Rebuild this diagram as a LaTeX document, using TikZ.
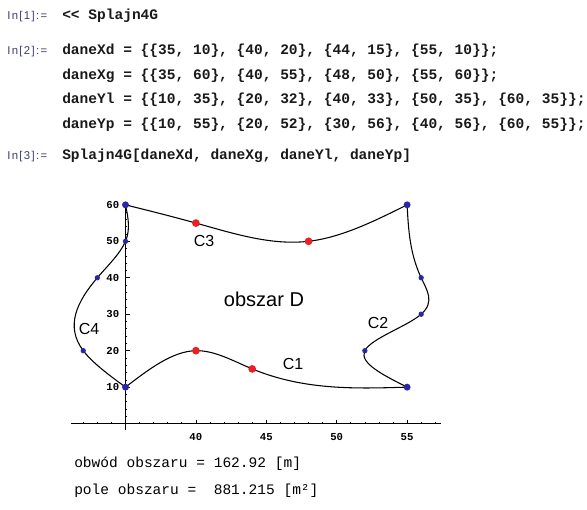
\documentclass[tikz,border=0pt]{standalone}
\usepackage{fontspec}
\setmainfont{Liberation Sans}
\setmonofont{Liberation Mono}
\newfontfamily\labfont{Liberation Sans}[LetterSpace=12]
\definecolor{inlabc}{RGB}{60,60,115}
\definecolor{ptblue}{RGB}{40,40,165}
\definecolor{ptred}{RGB}{232,32,40}
\begin{document}
\begin{tikzpicture}[x=0.75pt,y=-0.75pt,
  code/.style={font=\ttfamily\bfseries\fontsize{10.9}{12}\selectfont, anchor=base west, inner sep=0pt, text=black!90},
  outtxt/.style={font=\ttfamily\fontsize{10.9}{12}\selectfont, anchor=base west, inner sep=0pt},
  inlab/.style={font=\labfont\fontsize{8.5}{10}\selectfont, text=inlabc, anchor=base west, inner sep=0pt},
  tlab/.style={font=\ttfamily\bfseries\fontsize{8}{9}\selectfont, inner sep=0pt},
  clab/.style={font=\fontsize{12}{14}\selectfont, inner sep=0pt},
  dlab/.style={font=\fontsize{15}{17}\selectfont, inner sep=0pt},
  curve/.style={draw=black, line width=0.8pt},
  axisline/.style={draw=black, line width=0.75pt},
  tickline/.style={draw=black, line width=0.5pt},
  bigblue/.style={circle, fill=ptblue, minimum size=5.2pt, inner sep=0pt},
  smallblue/.style={circle, fill=ptblue, minimum size=4pt, inner sep=0pt},
  bigred/.style={circle, fill=ptred, minimum size=5.8pt, inner sep=0pt}]
\useasboundingbox (0,0) rectangle (587,510);
\fill[white] (0,0) rectangle (587,510);

% --- input cells ---
\node[inlab] (in1) at (7,20) {In[1]:=};
\node[code] (c1) at (62,20) {<{}< Splajn4G};
\node[inlab] (in2) at (7,55) {In[2]:=};
\node[code] (c2) at (62,55) {daneXd = \{\{35, 10\}, \{40, 20\}, \{44, 15\}, \{55, 10\}\};};
\node[code] (c3) at (62,80) {daneXg = \{\{35, 60\}, \{40, 55\}, \{48, 50\}, \{55, 60\}\};};
\node[code] (c4) at (62,104) {daneYl = \{\{10, 35\}, \{20, 32\}, \{40, 33\}, \{50, 35\}, \{60, 35\}\};};
\node[code] (c5) at (62,129) {daneYp = \{\{10, 55\}, \{20, 52\}, \{30, 56\}, \{40, 56\}, \{60, 55\}\};};
\node[inlab] (in3) at (7,160) {In[3]:=};
\node[code] (c6) at (62,160) {Splajn4G[daneXd, daneXg, daneYl, daneYp]};

% --- output text ---
\node[outtxt] (o1) at (74,468) {obwód obszaru = 162.92 [m]};
\node[outtxt] (o2) at (74,495) {pole obszaru =~ 881.215 [m²]};

% --- plot ---
\begin{scope}[shift={(-367.3,423.6)}, x=10.56pt, y=2.7345pt]
  % axes
  \coordinate (xa) at (31.1,0);
  \coordinate (xb) at (57.4,0);
  \coordinate (ya) at (35,-1.8);
  \coordinate (yb) at (35,60.3);
  \draw[axisline] (xa) -- (xb);
  \draw[axisline] (ya) -- (yb);
  \foreach \i in {32,33,34,36,37,38,39,41,42,43,44,46,47,48,49,51,52,53,54,56,57}
    \draw[tickline] (\i,0) -- ++(0pt,1.4pt);
  \foreach \i in {40,45,50,55} {
    \draw[tickline] (\i,0) -- ++(0pt,3pt);
    \node[tlab] (xl\i) at ([yshift=-10pt]\i,0) {\i};
  }
  \foreach \j in {2,4,6,8,12,14,16,18,22,24,26,28,32,34,36,38,42,44,46,48,52,54,56,58}
    \draw[tickline] (35,\j) -- ++(1.4pt,0pt);
  \foreach \j in {10,20,30,40,50,60} {
    \draw[tickline] (35,\j) -- ++(3pt,0pt);
    \node[tlab, anchor=east] (yl\j) at ([xshift=-4.5pt]35,\j) {\j};
  }

  % data points
  \coordinate (a1) at (35,10);
  \coordinate (a2) at (40,20);
  \coordinate (a3) at (44,15);
  \coordinate (a4) at (55,10);
  \coordinate (b1) at (35,60);
  \coordinate (b2) at (40,55);
  \coordinate (b3) at (48,50);
  \coordinate (b4) at (55,60);
  \coordinate (l2) at (32,20);
  \coordinate (l3) at (33,40);
  \coordinate (l4) at (35,50);
  \coordinate (r2) at (52,20);
  \coordinate (r3) at (56,30);
  \coordinate (r4) at (56,40);

  % C1
  \draw[curve] (a1) .. controls (36.667,14.934) and (38.333,19.869) .. (a2)
    .. controls (41.333,20.105) and (42.667,17.135) .. (a3)
    .. controls (47.667,9.128) and (51.333,9.564) .. (a4);
  % C3
  \draw[curve] (b1) .. controls (36.667,58.394) and (38.333,56.787) .. (b2)
    .. controls (42.667,52.140) and (45.333,48.818) .. (b3)
    .. controls (50.333,51.034) and (52.667,55.517) .. (b4);
  % C4
  \draw[curve] (a1) .. controls (33.824,13.333) and (32.648,16.667) .. (l2)
    .. controls (30.705,26.667) and (31.525,33.333) .. (l3)
    .. controls (33.738,43.333) and (34.639,46.667) .. (l4)
    .. controls (35.361,53.333) and (35.180,56.667) .. (b1);
  % C2
  \draw[curve] (a4) .. controls (53.285,13.333) and (51.570,16.667) .. (r2)
    .. controls (52.430,23.333) and (55.006,26.667) .. (r3)
    .. controls (56.994,33.333) and (56.407,36.667) .. (r4)
    .. controls (55.186,46.667) and (55.093,53.333) .. (b4);

  % dots
  \node[bigblue] (pa1) at (a1) {};
  \node[bigblue] (pa4) at (a4) {};
  \node[bigblue] (pb1) at (b1) {};
  \node[bigblue] (pb4) at (b4) {};
  \node[bigred] (pa2) at (a2) {};
  \node[bigred] (pa3) at (a3) {};
  \node[bigred] (pb2) at (b2) {};
  \node[bigred] (pb3) at (b3) {};
  \node[smallblue] (pl2) at (l2) {};
  \node[smallblue] (pl3) at (l3) {};
  \node[smallblue] (pl4) at (l4) {};
  \node[smallblue] (pr2) at (r2) {};
  \node[smallblue] (pr3) at (r3) {};
  \node[smallblue] (pr4) at (r4) {};
\end{scope}

% curve labels
\node[clab] (lc3) at (204,241) {C3};
\node[clab] (lc1) at (293,364) {C1};
\node[clab] (lc2) at (378,323) {C2};
\node[clab] (lc4) at (89,329) {C4};
\node[dlab] (ld) at (264,299) {obszar D};
\end{tikzpicture}
\end{document}
